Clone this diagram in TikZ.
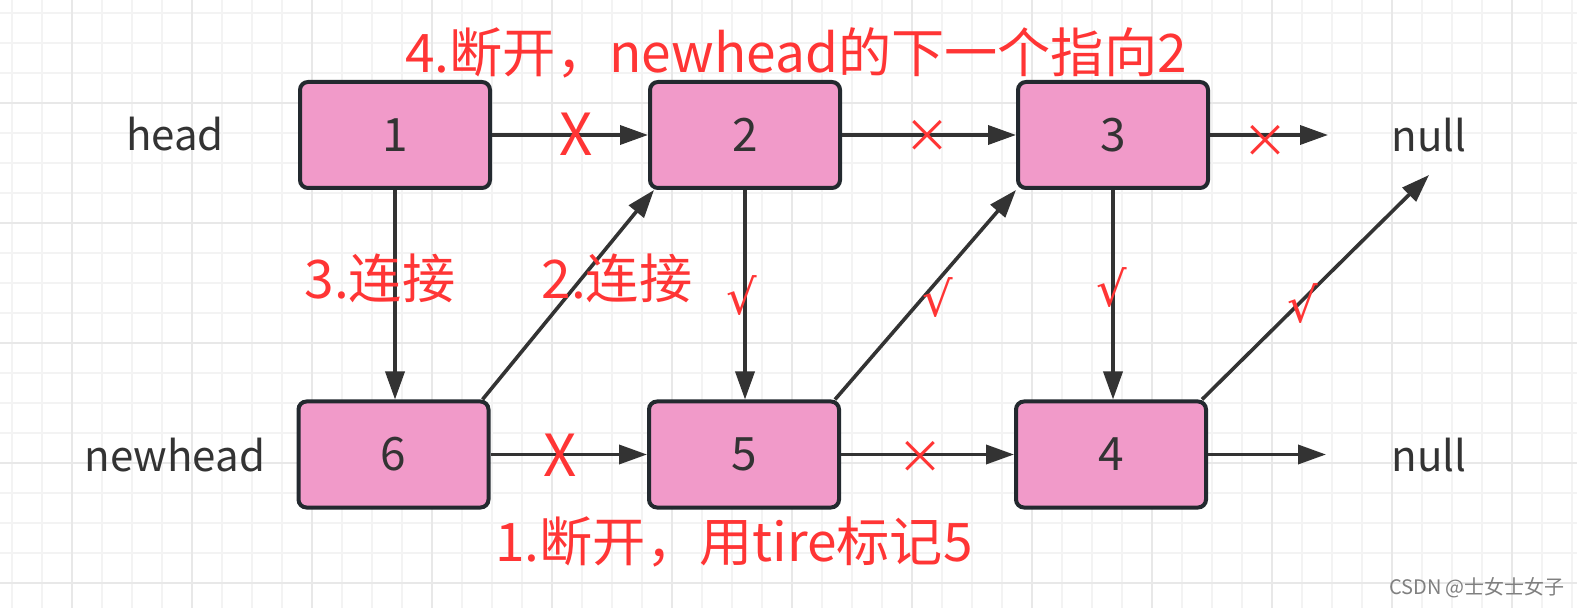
\documentclass[tikz,border=0pt]{standalone}
\usepackage{fontspec}
\setmainfont{Noto Sans CJK SC}
\newfontfamily\tickfont{DejaVu Sans}
\usetikzlibrary{positioning,arrows.meta}
\definecolor{boxpink}{HTML}{F19AC9}
\definecolor{boxline}{HTML}{23292F}
\definecolor{ink}{HTML}{333333}
\definecolor{redmark}{HTML}{FF3535}
\definecolor{gridminor}{HTML}{F3F3F3}
\definecolor{gridmajor}{HTML}{E8E8E8}

\begin{document}
\begin{tikzpicture}[
  x=0.5pt, y=-0.5pt,
  box/.style={rectangle, rounded corners=4pt, draw=boxline, line width=2pt, fill=boxpink,
    minimum width=95pt, minimum height=53pt, font=\fontsize{23}{27}\selectfont, text=ink},
  tag/.style={font=\fontsize{21}{25}\selectfont, text=ink},
  link/.style={-{Triangle[length=14pt,width=9.5pt]}, line width=1.8pt, draw=ink},
  note/.style={font=\fontsize{26.6}{30}\selectfont, text=redmark, inner sep=0pt},
  bigx/.style={font=\fontsize{29}{30}\selectfont, text=redmark, inner sep=0pt},
  smallx/.style={font=\fontsize{23}{25}\selectfont, text=redmark, inner sep=0pt},
  tick/.style={font=\tickfont\fontsize{24}{26}\selectfont, text=redmark, inner sep=0pt}
]

% background grid
\useasboundingbox (0,0) rectangle (1577,608);
\fill[white] (0,0) rectangle (1577,608);
\foreach \gx in {12,42,...,1572} \draw[gridminor, line width=1pt] (\gx,0) -- (\gx,608);
\foreach \gy in {13,43,...,603} \draw[gridminor, line width=1pt] (0,\gy) -- (1577,\gy);
\foreach \gx in {72,192,...,1512} \draw[gridmajor, line width=1pt] (\gx,0) -- (\gx,608);
\foreach \gy in {103,223,...,583} \draw[gridmajor, line width=1pt] (0,\gy) -- (1577,\gy);

% list nodes
\node[box] (n1) at (395,135) {1};
\node[box] (n2) at (745,135) {2};
\node[box] (n3) at (1113,135) {3};
\node[box] (n6) at (393.5,454.5) {6};
\node[box] (n5) at (744,454.5) {5};
\node[box] (n4) at (1111,454.5) {4};

\node[tag] (head) at (175,134) {head};
\node[tag] (newhead) at (175,455) {newhead};
\node[tag] (null1) at (1429,135) {null};
\node[tag] (null2) at (1429,455) {null};

\coordinate (end1) at (1328,135);
\coordinate (end2) at (1326,454.5);
\coordinate (end3) at (1429,175);

% links
\draw[link] (n1) -- (n2);
\draw[link] (n2) -- (n3);
\draw[link] (n3) -- (end1);
\draw[link] (n6) -- (n5);
\draw[link] (n5) -- (n4);
\draw[link] (n4) -- (end2);
\draw[link] (n1) -- (n1 |- n6.north);
\draw[link] (n2) -- (n2 |- n5.north);
\draw[link] (n3) -- (n3 |- n4.north);
\draw[link] ([xshift=-4pt]n6.north east) -- ([xshift=3pt]n2.south west);
\draw[link] ([xshift=-3pt]n5.north east) -- (n3.south west);
\draw[link] ([xshift=-3pt]n4.north east) -- (end3);

% marks
\node[bigx] (x1) at (576,134) {X};
\node[bigx] (x2) at (560,455) {X};
\node[smallx] (c1) at (927,136) {×};
\node[smallx] (c2) at (1265,141) {×};
\node[smallx] (c3) at (920,457) {×};
\node[tick] (t1) at (742,296) {√};
\node[tick] (t2) at (938,298) {√};
\node[tick] (t3) at (1112,288) {√};
\node[tick] (t4) at (1303,304) {√};

% steps
\node[note] (s4) at (796,53) {4.断开，newhead的下一个指向2};
\node[note] (s3) at (380,278) {3.连接};
\node[note] (s2) at (617,278) {2.连接};
\node[note] (s1) at (734,542) {1.断开，用tire标记5};

\node[font=\fontsize{10}{12}\selectfont, text=gray] (credit) at (1477,588) {CSDN @士女士女子};

\end{tikzpicture}
\end{document}
